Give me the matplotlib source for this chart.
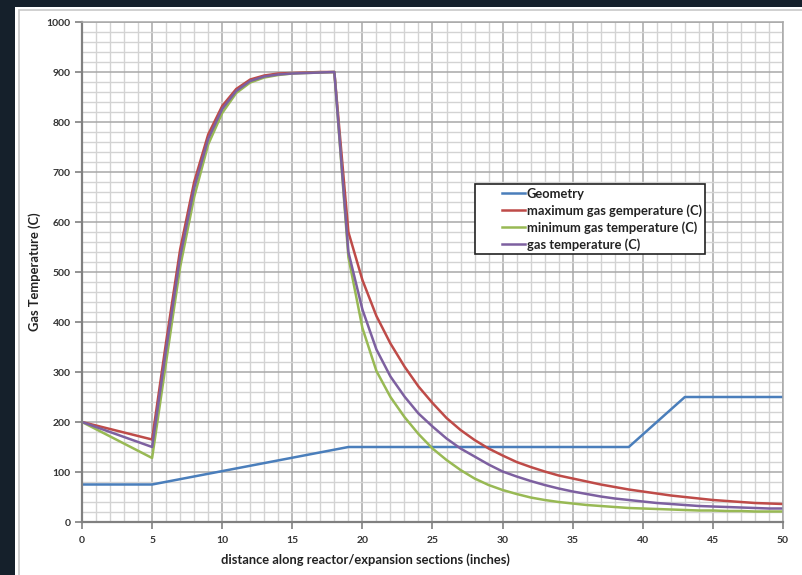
import matplotlib
matplotlib.use('Agg')
import matplotlib.pyplot as plt
from matplotlib.patches import Rectangle
from matplotlib.ticker import MultipleLocator
from matplotlib.legend_handler import HandlerLine2D

# distance along reactor (inches)
geom_x = [0, 5, 19, 39, 43, 50]
geom_y = [75, 75, 150, 150, 250, 250]

temp_x = [0] + list(range(5, 51))
max_gas = [200, 165, 360, 545, 680, 775, 832, 866, 885, 893, 897, 898, 899, 900, 900,
           580, 484, 412, 357, 311, 271, 238, 208, 184, 164, 147, 133, 120, 110, 101, 93,
           87, 81, 75, 70, 65, 61, 57, 53, 50, 47, 44, 42, 40, 38, 37, 36]
min_gas = [200, 128, 320, 510, 650, 755, 818, 858, 879, 889, 894, 897, 898, 899, 900,
           530, 388, 302, 250, 210, 176, 147, 124, 104, 87, 74, 64, 56, 49, 44, 40,
           37, 34, 32, 30, 28, 27, 26, 25, 24, 23, 23, 22, 22, 21, 21, 21]
gas_temp = [200, 150, 345, 530, 668, 766, 826, 862, 882, 891, 895, 897, 898, 899, 900,
            540, 425, 345, 291, 251, 217, 191, 167, 147, 131, 115, 101, 91, 82, 74, 67,
            61, 56, 51, 47, 44, 41, 38, 36, 34, 32, 31, 30, 29, 28, 27, 27]

labels = ['Geometry', 'maximum gas gemperature (C)',
          'minimum gas temperature (C)', 'gas temperature (C)']
colors = ['#4A7EBB', '#BE4B48', '#98B954', '#7D60A0']

plt.rcParams['font.family'] = ['Lato', 'DejaVu Sans']

fig = plt.figure(figsize=(8.03, 5.75), dpi=100, facecolor='#15202b')
# white panel of the screenshot
fig.patches.append(Rectangle((15 / 803, 0), 1, 1 - 7 / 575, transform=fig.transFigure,
                             facecolor='white', edgecolor='none', zorder=-10))
fig.patches.append(Rectangle((19 / 803, -0.1), 1, 1 - 10 / 575 + 0.1, transform=fig.transFigure,
                             facecolor='none', edgecolor='#c8c8c8', lw=1.2, zorder=-9))

ax = fig.add_axes([82 / 803, 53 / 575, 701 / 803, 500 / 575])
ax.set_facecolor('white')
ax.set_xlim(0, 50)
ax.set_ylim(0, 1000)
ax.xaxis.set_major_locator(MultipleLocator(5))
ax.xaxis.set_minor_locator(MultipleLocator(1))
ax.yaxis.set_major_locator(MultipleLocator(100))
ax.yaxis.set_minor_locator(MultipleLocator(20))
ax.grid(which='major', color='#a8a8a8', lw=1.1)
ax.grid(which='minor', color='#d3d3d3', lw=1.0)
ax.set_axisbelow(True)

for s in ['top', 'right']:
    ax.spines[s].set_color('#a8a8a8')
    ax.spines[s].set_linewidth(1.1)
for s in ['left', 'bottom']:
    ax.spines[s].set_color('#808080')
    ax.spines[s].set_linewidth(1.6)

ax.tick_params(which='major', length=5, width=1.2, color='#808080',
               labelsize=7.5, labelcolor='#333333', pad=3)
ax.tick_params(which='minor', length=0)
ax.tick_params(axis='x', pad=5)

ax.plot(geom_x, geom_y, color=colors[0], lw=1.8, label=labels[0])
ax.plot(temp_x, max_gas, color=colors[1], lw=1.8, label=labels[1])
ax.plot(temp_x, min_gas, color=colors[2], lw=1.8, label=labels[2])
ax.plot(temp_x, gas_temp, color=colors[3], lw=1.8, label=labels[3])

for lab in ax.get_xticklabels() + ax.get_yticklabels():
    lab.set_fontweight('bold')

fig.text(365 / 803, 1 - 560 / 575, 'distance along reactor/expansion sections (inches)',
         fontsize=9.3, fontweight='bold', color='#222222', ha='center', va='center')
fig.text(35 / 803, 1 - 272 / 575, 'Gas Temperature (C)', rotation=90,
         fontsize=9.3, fontweight='bold', color='#222222', ha='center', va='center')

leg = ax.legend(loc='upper left', bbox_to_anchor=(0.5606, 0.676), borderaxespad=0,
                fancybox=False, framealpha=1, edgecolor='#222222',
                handlelength=3.57, handletextpad=0.15, borderpad=0.28,
                labelspacing=0.34, prop={'weight': 'bold', 'size': 9.3},
                handler_map={plt.Line2D: HandlerLine2D(xpad=1.78)})
leg.get_frame().set_linewidth(1.2)
for t in leg.get_texts():
    t.set_color('#222222')

plt.savefig('out.png', dpi=100, facecolor=fig.get_facecolor())
